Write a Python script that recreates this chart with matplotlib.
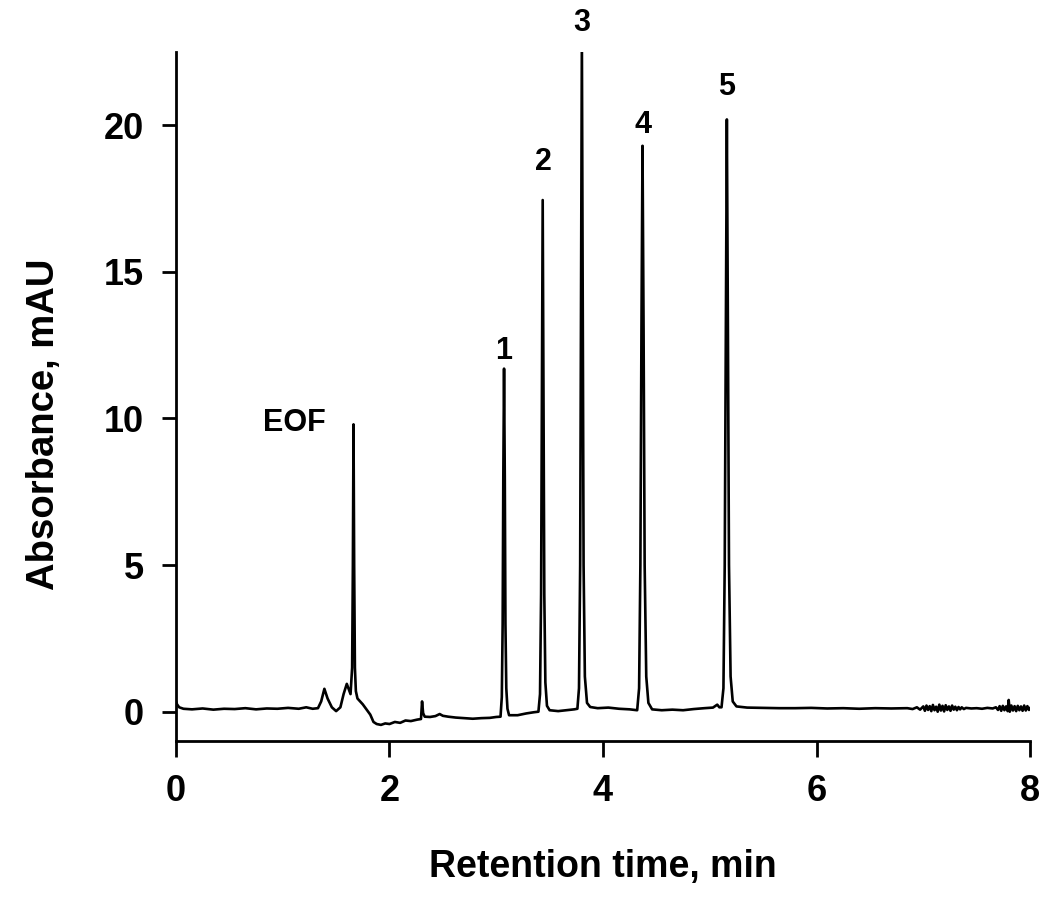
import numpy as np
import matplotlib.pyplot as plt

# trace: retention time (min), absorbance (mAU)
time_min = [
    0.000, 0.010, 0.030, 0.070, 0.150, 0.250, 0.350, 0.450, 0.550, 0.650,
    0.750, 0.850, 0.950, 1.050, 1.150, 1.220, 1.280, 1.330, 1.360, 1.390,
    1.420, 1.460, 1.500, 1.540, 1.570, 1.600, 1.635,
    # EOF
    1.650, 1.657, 1.663, 1.669, 1.676, 1.685,
    1.700, 1.750, 1.790, 1.820, 1.850, 1.880, 1.920, 1.960, 2.000, 2.050,
    2.100, 2.150, 2.200, 2.260, 2.295, 2.305, 2.315, 2.330, 2.380, 2.430,
    2.470, 2.500, 2.550, 2.620, 2.700, 2.780, 2.860, 2.940, 3.000,
    # peak 1
    3.040, 3.052, 3.060, 3.066, 3.073, 3.080, 3.086, 3.094, 3.105, 3.120,
    3.200, 3.280, 3.350,
    # peak 2
    3.395, 3.410, 3.420, 3.428, 3.435, 3.442, 3.450, 3.460, 3.475, 3.500,
    3.580, 3.660, 3.730,
    # peak 3
    3.760, 3.775, 3.786, 3.794, 3.802, 3.810, 3.818, 3.830, 3.850, 3.880,
    3.950, 4.050, 4.150, 4.250,
    # peak 4
    4.320, 4.338, 4.350, 4.360, 4.370, 4.380, 4.390, 4.405, 4.425, 4.460,
    4.550, 4.650, 4.750, 4.850, 4.950, 5.030, 5.070, 5.090,
    # peak 5
    5.110, 5.128, 5.140, 5.150, 5.160, 5.170, 5.180, 5.195, 5.215, 5.250,
    5.350, 5.500, 5.650, 5.800, 5.950, 6.100, 6.250, 6.400, 6.550, 6.700,
    6.850, 6.900, 6.940, 6.970,
    # noisy stretch
    7.000, 7.015, 7.030, 7.045, 7.060, 7.075, 7.090, 7.105, 7.120, 7.135,
    7.150, 7.165, 7.180, 7.195, 7.210, 7.225, 7.240, 7.255, 7.270, 7.285,
    7.300, 7.315, 7.330, 7.345, 7.360, 7.380, 7.400, 7.450, 7.500, 7.550,
    7.600, 7.650, 7.680, 7.700, 7.715, 7.730, 7.745, 7.760, 7.775, 7.790,
    7.800, 7.810, 7.825, 7.840, 7.855, 7.870, 7.885, 7.900, 7.915, 7.930,
    7.945, 7.960, 7.975, 7.990, 8.000,
]
absorbance = [
    0.35, 0.25, 0.15, 0.10, 0.08, 0.11, 0.07, 0.10, 0.09, 0.12,
    0.08, 0.11, 0.10, 0.13, 0.10, 0.15, 0.10, 0.12, 0.35, 0.78,
    0.45, 0.15, 0.02, 0.15, 0.60, 0.95, 0.60,
    1.50, 5.00, 9.80, 5.00, 1.50, 0.70,
    0.45, 0.25, 0.05, -0.10, -0.35, -0.42, -0.45, -0.40, -0.42, -0.35,
    -0.38, -0.30, -0.32, -0.27, -0.25, 0.35, -0.05, -0.17, -0.18, -0.15,
    -0.08, -0.14, -0.17, -0.20, -0.22, -0.24, -0.22, -0.21, -0.18,
    -0.17, 0.50, 3.00, 8.00, 11.70, 8.00, 3.00, 0.80, 0.10, -0.12,
    -0.12, -0.06, -0.02,
    0.00, 0.60, 4.00, 11.00, 17.45, 11.00, 4.00, 1.00, 0.20, 0.05,
    0.02, 0.05, 0.08,
    0.10, 0.80, 5.00, 14.00, 23.00, 14.00, 5.00, 1.20, 0.30, 0.16,
    0.12, 0.14, 0.10, 0.08,
    0.05, 0.80, 5.00, 13.00, 19.30, 13.00, 5.00, 1.20, 0.30, 0.08,
    0.05, 0.07, 0.05, 0.09, 0.12, 0.14, 0.24, 0.15,
    0.15, 0.80, 5.00, 13.00, 20.20, 13.00, 5.00, 1.20, 0.35, 0.18,
    0.14, 0.13, 0.12, 0.12, 0.13, 0.11, 0.12, 0.10, 0.12, 0.11,
    0.12, 0.09, 0.15, 0.07,
    0.18, 0.03, 0.21, 0.06, 0.19, 0.02, 0.23, 0.05, 0.17, 0.00,
    0.24, 0.04, 0.20, 0.01, 0.22, 0.06, 0.18, 0.03, 0.21, 0.07,
    0.17, 0.05, 0.16, 0.08, 0.15, 0.09, 0.13, 0.11, 0.12, 0.10,
    0.13, 0.11, 0.15, 0.06, 0.19, 0.03, 0.20, 0.05, 0.18, 0.02,
    0.40, 0.00, 0.21, 0.04, 0.19, 0.02, 0.20, 0.05, 0.18, 0.03,
    0.21, 0.04, 0.19, 0.06, 0.12,
]

peak_labels = ["EOF", "1", "2", "3", "4", "5"]
label_x = [1.105, 3.07, 3.44, 3.80, 4.37, 5.16]
label_y = [9.83, 12.3, 18.75, 23.5, 20.0, 21.3]

plt.rcParams['font.family'] = ['Liberation Sans', 'DejaVu Sans']
plt.rcParams['font.weight'] = 'bold'

fig = plt.figure(figsize=(10.5, 9.07), dpi=100)
ax = fig.add_axes([0.1676, 0.183, 0.8134, 0.7597])

ax.plot(time_min, absorbance, color='black', linewidth=1.9)

for lab, x, y in zip(peak_labels, label_x, label_y):
    ax.text(x, y, lab, ha='center', va='center', fontsize=22, fontweight='bold',
            clip_on=False)

ax.set_xlim(0, 8)
ax.set_ylim(-1, 22.5)
ax.set_xticks([0, 2, 4, 6, 8])
ax.set_yticks([0, 5, 10, 15, 20])

for side in ['top', 'right']:
    ax.spines[side].set_visible(False)
for side in ['left', 'bottom']:
    ax.spines[side].set_linewidth(2)

ax.tick_params(axis='both', direction='out', width=2, labelsize=26)
ax.tick_params(axis='x', length=11.5, pad=12)
ax.tick_params(axis='y', length=10, pad=13)

ax.set_xlabel("Retention time, min", fontsize=27, fontweight='bold')
ax.set_ylabel("Absorbance, mAU", fontsize=27.5, fontweight='bold')
ax.xaxis.set_label_coords(0.5, -0.157)
ax.yaxis.set_label_coords(-0.133, 0.46)

fig.savefig("out.png", dpi=100)
